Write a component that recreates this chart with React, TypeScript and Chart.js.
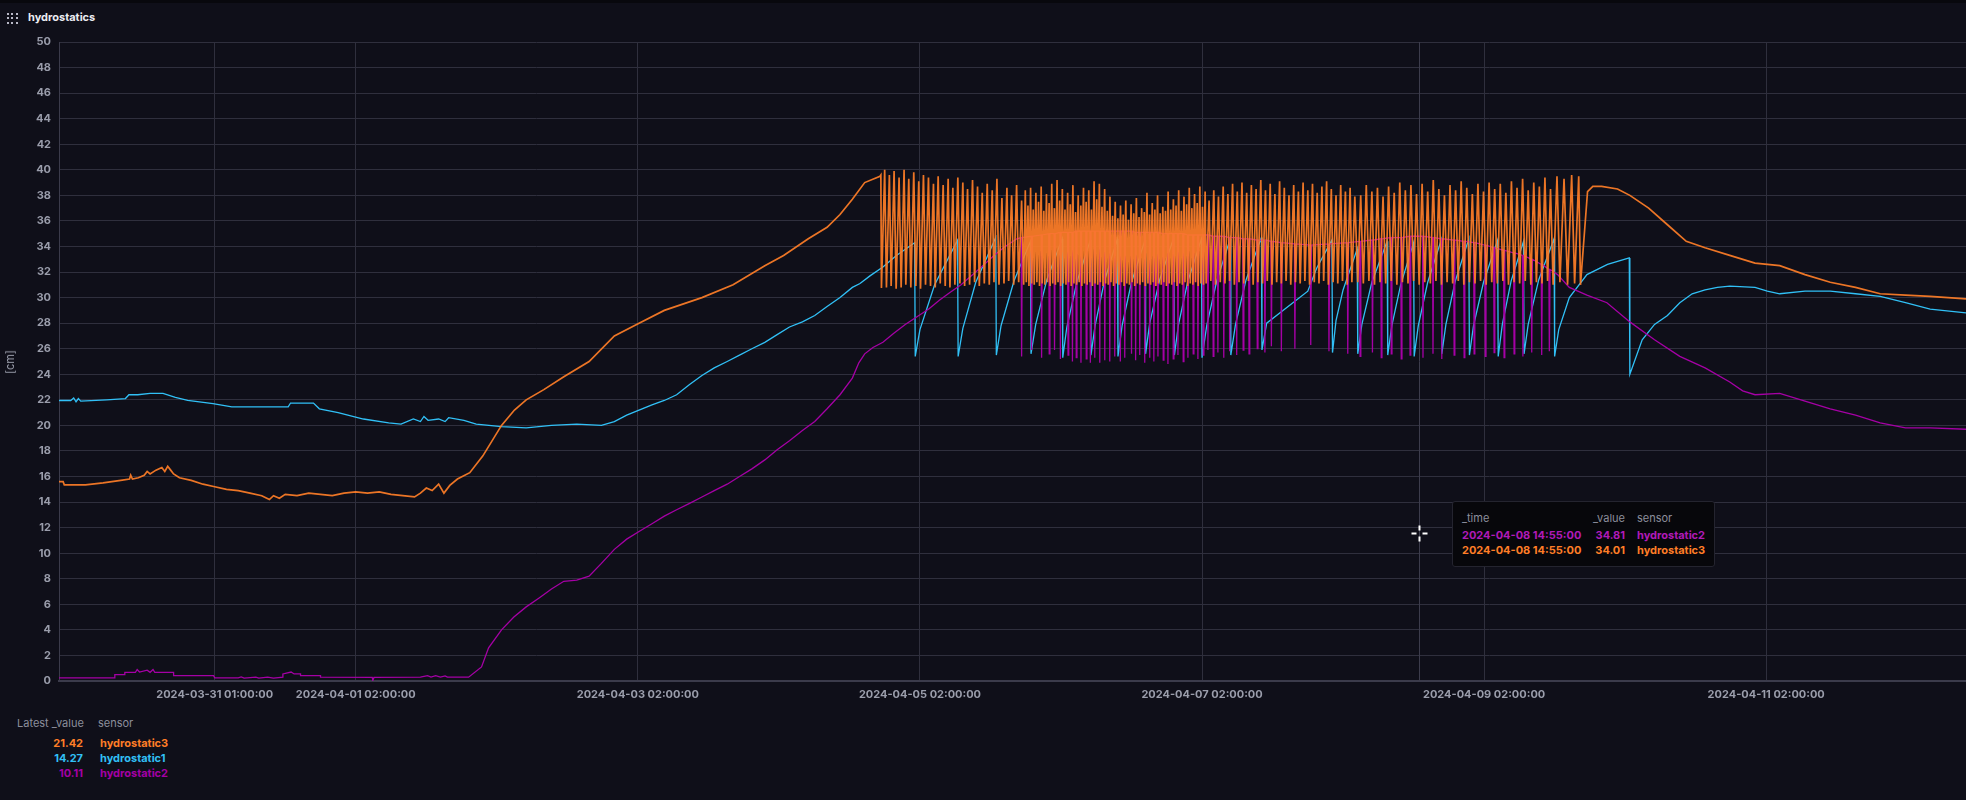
import React, { useEffect, useRef } from "react";
import { Chart, registerables } from "chart.js";
Chart.register(...registerables);

const FONT = "Inter, 'DejaVu Sans', sans-serif";
const BG = "#0f0f19";
const GRID = "#2f2f3d";
const TICK = "#9a9dab";
const COLOR1 = "#31C0F6";
const COLOR2 = "#A500A5";
const COLOR3 = "#FF7E27";

// x values: hours since 2024-04-01 02:00:00 (local)
const xMin = -50.5;
const xMax = 274;
const xTickHours = [-24, 0, 48, 96, 144, 192, 240];
const xTickLabels = [
  "2024-03-31 01:00:00",
  "2024-04-01 02:00:00",
  "2024-04-03 02:00:00",
  "2024-04-05 02:00:00",
  "2024-04-07 02:00:00",
  "2024-04-09 02:00:00",
  "2024-04-11 02:00:00",
];
const hoverHour = 180.92;

// ---------- hydrostatic3 (orange) ----------
const h3Before: [number, number][] = [
  [-50.5, 15.6], [-49.8, 15.6], [-49.6, 15.35], [-46, 15.35], [-43, 15.5], [-40, 15.7],
  [-38.5, 15.8], [-38.3, 16.1], [-38, 15.8], [-37, 15.9], [-36, 16.1], [-35.5, 16.4],
  [-35, 16.2], [-34, 16.5], [-33, 16.7], [-32.5, 16.4], [-32, 16.8], [-31.5, 16.5],
  [-31, 16.2], [-30, 15.9], [-28, 15.7], [-26, 15.4], [-24, 15.2], [-22, 15.0],
  [-20, 14.9], [-18, 14.7], [-16, 14.5], [-14.7, 14.2], [-14, 14.5], [-13, 14.3],
  [-12, 14.6], [-10, 14.5], [-8, 14.7], [-6, 14.6], [-4, 14.5], [-2, 14.7], [0, 14.8],
  [2, 14.7], [4, 14.8], [6, 14.6], [8, 14.5], [10, 14.4], [11, 14.7], [12, 15.1],
  [13, 14.9], [14.1, 15.4], [15, 14.7], [16, 15.3], [17.3, 15.8], [19.4, 16.3],
  [21.6, 17.6], [24.8, 20.0], [27, 21.2], [29, 22.0], [32, 22.8], [35.4, 23.8],
  [39.7, 25.0], [44, 27.0], [48.2, 28.0], [52.5, 29.0], [58.9, 30.0], [64.2, 31.0],
  [69.6, 32.5], [72.8, 33.3], [77, 34.6], [80.2, 35.5], [82.4, 36.5], [84.5, 37.7],
  [86.6, 39.0], [89.2, 39.5], [89.35, 39.6],
];
// [low hour, low value, peak hour, peak value]
const h3TeethEarly: [number, number, number, number][] = [
  [89.45, 30.75, 90.0, 40.0], [90.3, 30.8, 90.8, 39.6], [91.1, 30.9, 91.6, 39.9],
  [91.95, 30.7, 92.45, 39.4], [92.8, 30.8, 93.3, 40.0], [93.6, 31.0, 94.1, 39.3],
  [94.45, 30.8, 94.95, 39.8], [95.3, 30.9, 95.8, 39.1], [96.1, 30.7, 96.6, 39.6],
  [96.95, 31.0, 97.45, 39.4], [97.8, 30.9, 98.3, 38.9], [98.6, 30.8, 99.1, 39.5],
  [99.45, 31.1, 99.95, 38.8], [100.3, 30.9, 100.8, 39.3], [101.1, 30.8, 101.6, 38.6],
  [101.95, 31.0, 102.45, 39.4], [102.8, 31.1, 103.3, 39.0], [103.6, 30.9, 104.1, 38.5],
  [104.45, 31.0, 104.95, 39.2], [105.3, 31.2, 105.8, 38.7], [106.1, 30.9, 106.6, 38.2],
  [106.95, 31.1, 107.45, 38.9], [107.8, 31.0, 108.3, 38.4], [108.6, 31.2, 109.1, 39.3],
  [109.45, 31.0, 109.95, 37.8], [110.3, 31.1, 110.8, 38.6], [111.1, 31.3, 111.6, 38.0],
  [111.95, 31.0, 112.45, 38.8], [112.8, 31.2, 113.3, 37.6],
];
// dense pumping period: [low hour, low value, peak hour, peak value]
const h3TeethDense: [number, number, number, number][] = [
  [113.65, 31.0, 113.93, 38.4], [114.1, 31.2, 114.38, 37.2], [114.55, 30.9, 114.83, 38.6],
  [115.0, 31.1, 115.28, 36.9], [115.45, 31.0, 115.73, 38.2], [115.9, 31.2, 116.18, 37.5],
  [116.35, 30.9, 116.63, 38.7], [116.8, 31.1, 117.08, 36.8], [117.25, 31.0, 117.53, 38.1],
  [117.7, 31.2, 117.98, 37.4], [118.15, 30.9, 118.43, 38.9], [118.6, 31.1, 118.88, 37.0],
  [119.05, 31.0, 119.33, 39.2], [119.5, 31.2, 119.78, 37.6], [119.95, 30.9, 120.23, 38.5],
  [120.4, 31.1, 120.68, 36.9], [120.85, 31.0, 121.13, 38.2], [121.3, 31.2, 121.58, 37.3],
  [121.75, 30.9, 122.03, 38.8], [122.2, 31.1, 122.48, 36.7], [122.65, 31.0, 122.93, 38.0],
  [123.1, 31.2, 123.38, 37.2], [123.55, 30.9, 123.83, 38.6], [124.0, 31.1, 124.28, 37.5],
  [124.45, 31.0, 124.73, 38.4], [124.9, 31.2, 125.18, 36.9], [125.35, 30.9, 125.63, 39.1],
  [125.8, 31.1, 126.08, 37.7], [126.25, 31.0, 126.53, 38.9], [126.7, 31.2, 126.98, 37.1],
  [127.15, 30.9, 127.43, 38.5], [127.6, 31.1, 127.88, 36.8], [128.05, 31.0, 128.33, 37.9],
  [128.5, 31.2, 128.78, 36.4], [128.95, 30.9, 129.23, 37.5], [129.4, 31.1, 129.68, 36.2],
  [129.85, 31.0, 130.13, 37.2], [130.3, 31.2, 130.58, 36.5], [130.75, 30.9, 131.03, 37.6],
  [131.2, 31.1, 131.48, 36.1], [131.65, 31.0, 131.93, 37.3], [132.1, 31.2, 132.38, 36.6],
  [132.55, 30.9, 132.83, 37.8], [133.0, 31.1, 133.28, 36.3], [133.45, 31.0, 133.73, 37.0],
  [133.9, 31.2, 134.18, 36.7], [134.35, 30.9, 134.63, 38.2], [134.8, 31.1, 135.08, 36.5],
  [135.25, 31.0, 135.53, 37.4], [135.7, 31.2, 135.98, 36.9], [136.15, 30.9, 136.43, 38.0],
  [136.6, 31.1, 136.88, 36.6], [137.05, 31.0, 137.33, 37.1], [137.5, 31.2, 137.78, 36.8],
  [137.95, 30.9, 138.23, 38.3], [138.4, 31.1, 138.68, 36.9], [138.85, 31.0, 139.13, 37.7],
  [139.3, 31.2, 139.58, 37.2], [139.75, 30.9, 140.03, 38.4], [140.2, 31.1, 140.48, 36.8],
  [140.65, 31.0, 140.93, 37.9], [141.1, 31.2, 141.38, 37.3], [141.55, 30.9, 141.83, 38.6],
  [142.0, 31.1, 142.28, 37.0], [142.45, 31.0, 142.73, 38.1], [142.9, 31.2, 143.18, 37.4],
  [143.35, 30.9, 143.63, 38.7], [143.8, 31.1, 144.08, 37.1], [144.25, 31.0, 144.53, 38.3],
];
const h3TeethLate: [number, number, number, number][] = [
  [144.7, 31.1, 145.2, 37.6], [145.5, 31.3, 146.0, 38.4], [146.3, 31.0, 146.8, 37.9],
  [147.1, 31.2, 147.6, 38.7], [147.9, 31.1, 148.4, 38.1], [148.7, 31.3, 149.2, 38.9],
  [149.5, 31.0, 150.0, 38.3], [150.3, 31.2, 150.8, 39.0], [151.1, 31.1, 151.6, 38.2],
  [151.9, 31.3, 152.4, 38.8], [152.7, 31.0, 153.2, 38.5], [153.5, 31.2, 154.0, 39.2],
  [154.3, 31.1, 154.8, 38.4], [155.1, 31.3, 155.6, 38.9], [155.9, 31.0, 156.4, 38.1],
  [156.7, 31.2, 157.2, 39.1], [157.5, 31.1, 158.0, 38.6], [158.3, 31.3, 158.8, 38.0],
  [159.1, 31.0, 159.6, 38.8], [159.9, 31.2, 160.4, 38.3], [160.7, 31.1, 161.2, 39.0],
  [161.5, 31.3, 162.0, 38.4], [162.3, 31.0, 162.8, 38.9], [163.1, 31.2, 163.6, 38.2],
  [163.9, 31.1, 164.4, 38.7], [164.7, 31.3, 165.2, 39.1], [165.5, 31.0, 166.0, 38.5],
  [166.3, 31.2, 166.8, 38.0], [167.1, 31.1, 167.6, 38.8], [167.9, 31.3, 168.4, 38.3],
  [168.7, 31.0, 169.2, 38.6], [169.5, 31.2, 170.0, 37.9],
  [170.5, 31.2, 171.0, 38.0], [171.45, 31.1, 171.95, 38.8], [172.4, 31.3, 172.9, 38.3],
  [173.35, 31.0, 173.85, 38.6], [174.3, 31.2, 174.8, 37.9], [175.25, 31.1, 175.75, 38.7],
  [176.2, 31.3, 176.7, 38.2], [177.15, 31.0, 177.65, 39.0], [178.1, 31.2, 178.6, 38.4],
  [179.05, 31.1, 179.55, 38.8], [180.0, 31.3, 180.5, 38.1], [180.95, 31.0, 181.45, 38.9],
  [181.9, 31.2, 182.4, 38.3], [182.85, 31.1, 183.35, 39.2], [183.8, 31.3, 184.3, 38.5],
  [184.75, 31.0, 185.25, 38.0], [185.7, 31.2, 186.2, 38.8], [186.65, 31.1, 187.15, 38.4],
  [187.6, 31.3, 188.1, 39.1], [188.55, 31.0, 189.05, 38.6], [189.5, 31.2, 190.0, 38.1],
  [190.45, 31.1, 190.95, 38.9], [191.4, 31.3, 191.9, 38.3], [192.35, 31.0, 192.85, 39.0],
  [193.3, 31.2, 193.8, 38.5], [194.25, 31.1, 194.75, 38.9], [195.2, 31.3, 195.7, 38.2],
  [196.15, 31.0, 196.65, 39.1], [197.1, 31.2, 197.6, 38.6], [198.05, 31.1, 198.55, 39.3],
  [199.0, 31.3, 199.5, 38.4], [199.95, 31.0, 200.45, 39.0], [200.9, 31.2, 201.4, 38.7],
  [201.85, 31.1, 202.35, 39.4], [202.8, 31.3, 203.3, 38.5], [203.75, 31.0, 204.4, 39.5],
  [204.9, 31.2, 205.6, 39.3], [206.2, 31.0, 206.9, 39.6], [207.4, 31.1, 208.1, 39.5],
];
const h3After: [number, number][] = [
  [208.4, 31.0], [209.6, 38.3], [210.5, 38.7], [212, 38.7], [214.7, 38.5], [216.8, 38.0],
  [220, 37.0], [223.2, 35.7], [226.4, 34.4], [229.6, 33.9], [233.8, 33.3], [238.1, 32.7],
  [242.3, 32.5], [246.6, 31.8], [250.9, 31.2], [255.2, 30.8], [259.4, 30.3], [263.7, 30.2],
  [267.9, 30.1], [274, 29.9],
];

// ---------- hydrostatic2 (purple) ----------
const h2Before: [number, number][] = [
  [-50.5, 0.25], [-41, 0.25], [-41, 0.5], [-39.3, 0.5], [-39.3, 0.68], [-37.5, 0.68],
  [-37.2, 0.9], [-36.8, 0.7], [-35.5, 0.85], [-35, 0.68], [-34.5, 0.9], [-34.2, 0.68],
  [-31, 0.68], [-31, 0.42], [-24.2, 0.42], [-24, 0.25], [-20, 0.25], [-19.5, 0.32],
  [-19, 0.22], [-17, 0.3], [-16.5, 0.22], [-15, 0.3], [-14, 0.22], [-12.4, 0.3],
  [-12.4, 0.55], [-11, 0.7], [-10.5, 0.55], [-9.4, 0.55], [-9.4, 0.42], [-6, 0.42],
  [-6, 0.3], [2.8, 0.28], [2.9, 0.05], [3.1, 0.28], [11, 0.3], [12.2, 0.42], [12.8, 0.3],
  [13.6, 0.42], [14.4, 0.3], [15.2, 0.4], [15.6, 0.3], [19.2, 0.3], [21.4, 1.1],
  [22.6, 2.6], [24.8, 4.0], [26.9, 5.0], [29, 5.8], [31.2, 6.5], [33.3, 7.2], [35.4, 7.8],
  [37.6, 7.9], [39.7, 8.2], [41.8, 9.2], [44, 10.3], [46.1, 11.1], [48.2, 11.7],
  [50.4, 12.3], [52.5, 12.9], [54.6, 13.4], [56.8, 13.9], [58.9, 14.4], [61, 14.9],
  [63.2, 15.4], [65.3, 16.0], [67.4, 16.6], [69.6, 17.3], [71.7, 18.1], [73.8, 18.8],
  [76, 19.6], [78.1, 20.3], [80.2, 21.3], [82.4, 22.4], [84.5, 23.7], [85.6, 24.9],
  [86.6, 25.6], [88, 26.1], [89.7, 26.5], [91.5, 27.2], [93.5, 27.9], [95.5, 28.5],
  [97.5, 29.1], [99.3, 29.8], [101.1, 30.4], [103, 31.0], [105, 31.8], [106.7, 32.5],
  [108.6, 33.3], [110.5, 34.0], [112.5, 34.6],
];
// [spike hour, spike bottom, level around the spike]
const h2Spikes: [number, number, number][] = [
  [113.3, 25.4, 34.7], [115.0, 25.9, 34.8], [116.7, 25.3, 34.9], [118.0, 25.6, 35.0],
  [118.9, 25.9, 35.0], [119.9, 25.2, 35.1], [121.2, 25.5, 35.1], [121.95, 25.0, 35.1],
  [122.6, 25.3, 35.2], [123.4, 24.9, 35.2], [124.3, 25.2, 35.2], [125.0, 24.9, 35.2],
  [125.75, 25.3, 35.2], [126.6, 24.9, 35.2], [127.45, 25.1, 35.2], [128.3, 25.0, 35.2],
  [129.15, 25.4, 35.2], [130.1, 25.0, 35.2], [130.85, 25.3, 35.2], [132.0, 25.6, 35.2],
  [132.7, 25.1, 35.1], [133.4, 25.5, 35.1], [134.25, 24.9, 35.1], [135.1, 25.3, 35.1],
  [135.8, 25.0, 35.1], [136.5, 25.4, 35.1], [137.4, 25.1, 35.0], [138.2, 24.8, 35.0],
  [139.1, 25.2, 35.0], [139.9, 25.5, 35.0], [140.8, 25.0, 35.0], [141.6, 25.3, 34.9],
  [142.5, 25.6, 34.9], [143.3, 25.2, 34.9], [144.2, 25.5, 34.9], [145.0, 25.9, 34.9],
  [145.9, 25.4, 34.8], [146.7, 25.7, 34.8], [147.7, 25.3, 34.8], [148.7, 25.8, 34.7],
  [149.9, 25.5, 34.7], [151.0, 25.9, 34.6], [152.0, 25.6, 34.6], [153.4, 26.0, 34.5],
  [154.7, 25.7, 34.5], [155.8, 26.2, 34.4], [157.5, 25.8, 34.3], [159.8, 26.0, 34.2],
  [162.5, 26.3, 34.1], [165.6, 25.8, 34.2], [168.8, 25.6, 34.3], [170.9, 25.4, 34.4],
  [173.0, 25.7, 34.5], [174.5, 25.3, 34.6], [176.2, 25.6, 34.7], [177.9, 25.2, 34.7],
  [179.4, 25.5, 34.8], [181.6, 25.3, 34.8], [183.3, 25.6, 34.7], [184.8, 25.2, 34.6],
  [186.9, 25.5, 34.5], [188.6, 25.3, 34.4], [190.3, 25.6, 34.3], [192.2, 25.4, 34.1],
  [193.7, 25.7, 33.9], [195.4, 25.3, 33.7], [197.1, 25.6, 33.5], [198.6, 25.4, 33.3],
  [200.1, 25.7, 33.0], [201.8, 25.5, 32.6], [203.1, 25.8, 32.2],
];
const h2After: [number, number][] = [
  [204.5, 31.8], [206.5, 30.8], [209.5, 30.2], [212.9, 29.6], [216.8, 28.1], [221, 26.7],
  [225.3, 25.4], [229.6, 24.5], [233.8, 23.4], [236, 22.7], [238.1, 22.4], [242.3, 22.5],
  [246.6, 21.9], [250.9, 21.3], [255.2, 20.8], [259.4, 20.2], [263.7, 19.8], [267.9, 19.8],
  [274, 19.7],
];

// ---------- hydrostatic1 (cyan) ----------
const h1Before: [number, number][] = [
  [-50.5, 21.95], [-48.5, 21.95], [-48, 22.15], [-47.6, 21.85], [-47.2, 22.1], [-46.8, 21.9],
  [-42.4, 22.0], [-39.2, 22.1], [-38.6, 22.4], [-37.1, 22.4], [-35, 22.5], [-32.8, 22.5],
  [-30.7, 22.2], [-28.6, 21.95], [-24.3, 21.7], [-21.1, 21.45], [-17.9, 21.45],
  [-11.5, 21.45], [-11.1, 21.75], [-7.2, 21.75], [-6.2, 21.3], [-3, 21.0], [1.3, 20.5],
  [5.6, 20.2], [7.7, 20.1], [9.8, 20.5], [11, 20.3], [11.6, 20.7], [12.3, 20.4],
  [14.1, 20.5], [15.2, 20.3], [15.8, 20.6], [18.4, 20.4], [20.5, 20.1], [24.8, 19.9],
  [29, 19.8], [33.3, 20.0], [37.6, 20.1], [41.8, 20.0], [44, 20.3], [46.1, 20.8],
  [48.2, 21.2], [50.4, 21.6], [52.5, 21.95], [54.6, 22.4], [56.8, 23.2], [58.9, 23.9],
  [61, 24.5], [63.2, 25.0], [65.3, 25.5], [67.4, 26.0], [69.6, 26.5], [71.7, 27.1],
  [73.8, 27.7], [76, 28.1], [78.1, 28.6], [80.2, 29.3], [82.4, 30.0], [84.5, 30.8],
  [85.8, 31.1], [87.5, 31.7], [89.7, 32.4], [92, 33.3], [95.1, 34.3],
];
const h1Pumping: [number, number][] = [
  [95.2, 25.4], [96.0, 27.5], [98.5, 31.0], [102.4, 34.5],
  [102.5, 25.4], [103.3, 27.6], [105.5, 31.2], [108.9, 34.7],
  [109.0, 25.5], [109.8, 27.8], [112.0, 31.3], [114.8, 34.4],
  [114.9, 25.6], [115.7, 27.9], [117.6, 31.4], [120.2, 34.6],
  [120.3, 25.3], [121.0, 27.7], [122.7, 31.2], [125.0, 34.5],
  [125.1, 25.5], [125.8, 27.8], [127.4, 31.3], [129.6, 34.6],
  [129.7, 25.4], [130.4, 27.8], [132.0, 31.2], [134.3, 34.5],
  [134.4, 25.6], [135.1, 28.0], [136.8, 31.4], [139.2, 34.7],
  [139.3, 25.5], [140.0, 27.9], [141.6, 31.3], [143.9, 34.6],
  [144.0, 25.3], [144.8, 27.8], [146.5, 31.3], [148.8, 34.6],
  [148.9, 25.5], [149.7, 27.9], [151.5, 31.4], [154.1, 34.7],
  [154.2, 25.9], [155.0, 28.0], [162.0, 30.5], [163.5, 32.3], [166.1, 34.5],
  [166.2, 25.7], [166.8, 28.2], [168.0, 30.6], [170.4, 33.8],
  [170.5, 25.6], [171.2, 27.9], [172.9, 31.2], [175.5, 34.4],
  [175.6, 25.5], [176.3, 27.8], [177.8, 31.0], [180.0, 34.3],
  [180.1, 25.4], [180.8, 27.8], [182.4, 31.2], [184.7, 34.5],
  [184.8, 25.6], [185.5, 27.9], [187.1, 31.3], [189.4, 34.6],
  [189.5, 25.5], [190.2, 27.8], [191.9, 31.2], [194.3, 34.5],
  [194.4, 25.4], [195.1, 27.9], [196.6, 31.3], [198.7, 34.4],
  [198.8, 25.6], [199.5, 27.9], [201.3, 31.4], [203.9, 34.6],
  [204.0, 25.4], [204.7, 27.5], [206.5, 30.0], [209.5, 31.8], [213, 32.6], [216.7, 33.1],
];
const h1After: [number, number][] = [
  [216.8, 24.0], [218.9, 26.7], [221, 27.9], [223.2, 28.6], [225.3, 29.6], [227.4, 30.3],
  [229.6, 30.6], [231.7, 30.8], [233.8, 30.9], [238.1, 30.8], [240.2, 30.5], [242.3, 30.3],
  [246.6, 30.5], [250.9, 30.5], [255.2, 30.3], [259.4, 30.1], [263.7, 29.6], [267.9, 29.1],
  [274, 28.8],
];

// legend / tooltip content
const legendRows = [
  { value: "21.42", sensor: "hydrostatic3", color: COLOR3 },
  { value: "14.27", sensor: "hydrostatic1", color: COLOR1 },
  { value: "10.11", sensor: "hydrostatic2", color: COLOR2 },
];
const tooltipRows = [
  { time: "2024-04-08 14:55:00", value: "34.81", sensor: "hydrostatic2", color: "#b01ab8" },
  { time: "2024-04-08 14:55:00", value: "34.01", sensor: "hydrostatic3", color: COLOR3 },
];

const toXY = (pts: [number, number][]) => pts.map(([x, y]) => ({ x, y }));

function buildOrange() {
  const teeth: [number, number][] = [];
  [...h3TeethEarly, ...h3TeethDense, ...h3TeethLate].forEach(([a, b, c, d]) => {
    teeth.push([a, b]);
    teeth.push([c, d]);
  });
  return toXY([...h3Before, ...teeth, ...h3After]);
}
function buildPurple() {
  const spikes: [number, number][] = [];
  h2Spikes.forEach(([t, bottom, level]) => {
    spikes.push([t - 0.08, level]);
    spikes.push([t, bottom]);
    spikes.push([t + 0.12, level]);
  });
  return toXY([...h2Before, ...spikes, ...h2After]);
}
function buildCyan() {
  return toXY([...h1Before, ...h1Pumping, ...h1After]);
}

const crosshairPlugin = {
  id: "crosshair",
  beforeDatasetsDraw(chart: any) {
    const { ctx, chartArea, scales } = chart;
    const x = Math.round(scales.x.getPixelForValue(hoverHour)) + 0.5;
    ctx.save();
    ctx.strokeStyle = "#3c3c4c";
    ctx.lineWidth = 1;
    ctx.beginPath();
    ctx.moveTo(x, chartArea.top);
    ctx.lineTo(x, chartArea.bottom);
    ctx.stroke();
    ctx.restore();
  },
  afterDraw(chart: any) {
    const { ctx, scales } = chart;
    const x = Math.round(scales.x.getPixelForValue(hoverHour)) + 0.5;
    const y = 533.5;
    ctx.save();
    ctx.strokeStyle = "#ffffff";
    ctx.lineWidth = 2;
    ctx.beginPath();
    ctx.moveTo(x - 8, y); ctx.lineTo(x - 3, y);
    ctx.moveTo(x + 3, y); ctx.lineTo(x + 8, y);
    ctx.moveTo(x, y - 8); ctx.lineTo(x, y - 3);
    ctx.moveTo(x, y + 3); ctx.lineTo(x, y + 8);
    ctx.stroke();
    ctx.restore();
  },
};

function ChartCanvas() {
  const ref = useRef<HTMLCanvasElement>(null);
  useEffect(() => {
    if (!ref.current) return;
    const chart = new Chart(ref.current, {
      type: "line",
      data: {
        datasets: [
          {
            label: "hydrostatic3",
            data: buildOrange(),
            borderColor: "rgba(255,126,39,0.92)",
            borderWidth: 1.7,
            pointRadius: 0,
            tension: 0,
          },
          {
            label: "hydrostatic2",
            data: buildPurple(),
            borderColor: COLOR2,
            borderWidth: 1.3,
            pointRadius: 0,
            tension: 0,
          },
          {
            label: "hydrostatic1",
            data: buildCyan(),
            borderColor: COLOR1,
            borderWidth: 1.3,
            pointRadius: 0,
            tension: 0,
          },
        ],
      },
      options: {
        animation: false,
        responsive: false,
        devicePixelRatio: 1,
        parsing: false,
        normalized: true,
        spanGaps: true,
        layout: { padding: { top: 42, left: 0, right: 0, bottom: 0 } },
        plugins: {
          legend: { display: false },
          tooltip: { enabled: false },
        },
        scales: {
          x: {
            type: "linear",
            min: xMin,
            max: xMax,
            afterBuildTicks: (axis: any) => {
              axis.ticks = xTickHours.map((v) => ({ value: v }));
            },
            afterFit: (s: any) => { s.height = 30; },
            ticks: {
              autoSkip: false,
              maxRotation: 0,
              padding: 7,
              color: TICK,
              font: { family: FONT, size: 11, weight: "bold" },
              callback: (v: any) => {
                const i = xTickHours.indexOf(Number(v));
                return i >= 0 ? xTickLabels[i] : "";
              },
            },
            grid: { color: GRID, lineWidth: 1, drawTicks: false },
            border: { color: "#3b3b4b", width: 2 },
          },
          y: {
            type: "linear",
            min: 0,
            max: 50,
            afterFit: (s: any) => { s.width = 59; },
            ticks: {
              stepSize: 2,
              padding: 8,
              color: TICK,
              font: { family: FONT, size: 11, weight: "bold" },
            },
            grid: { color: GRID, lineWidth: 1, drawTicks: false },
            border: { color: "#3b3b4b", width: 1 },
          },
        },
      },
      plugins: [crosshairPlugin],
    } as any);
    return () => chart.destroy();
  }, []);
  return (
    <canvas
      ref={ref}
      width={1966}
      height={711}
      style={{ position: "absolute", left: 0, top: 0, width: 1966, height: 711 }}
    />
  );
}

export default function App() {
  const dots = [];
  for (let r = 0; r < 3; r++) {
    for (let c = 0; c < 3; c++) {
      dots.push(
        <div
          key={`${r}-${c}`}
          style={{
            position: "absolute",
            left: 7 + c * 4.4,
            top: 13 + r * 4.4,
            width: 2,
            height: 2,
            background: "#b8b8c6",
          }}
        />
      );
    }
  }
  return (
    <div
      style={{
        position: "fixed",
        left: 0,
        top: 0,
        width: 1966,
        height: 800,
        background: BG,
        overflow: "hidden",
        fontFamily: FONT,
      }}
    >
      <div style={{ position: "absolute", left: 0, top: 0, width: 1966, height: 3, background: "#08080d" }} />
      {dots}
      <div
        style={{
          position: "absolute",
          left: 28,
          top: 9,
          fontSize: 11,
          fontWeight: 700,
          color: "#ececf2",
          lineHeight: "16px",
        }}
      >
        hydrostatics
      </div>
      <ChartCanvas />
      <div
        style={{
          position: "absolute",
          left: 10,
          top: 362,
          transform: "translate(-50%, -50%) rotate(-90deg)",
          fontSize: 11,
          color: "#9a9dab",
          whiteSpace: "nowrap",
        }}
      >
        [cm]
      </div>
      {/* legend */}
      <div style={{ position: "absolute", left: 17, top: 715, fontSize: 11, color: "#8c8e9c", lineHeight: "16px" }}>
        Latest _value
      </div>
      <div style={{ position: "absolute", left: 98, top: 715, fontSize: 11, color: "#8c8e9c", lineHeight: "16px" }}>
        sensor
      </div>
      {legendRows.map((r, i) => (
        <React.Fragment key={r.sensor}>
          <div
            style={{
              position: "absolute",
              right: 1966 - 83,
              top: 735 + i * 15,
              fontSize: 11,
              fontWeight: 700,
              color: r.color,
              lineHeight: "16px",
            }}
          >
            {r.value}
          </div>
          <div
            style={{
              position: "absolute",
              left: 100,
              top: 735 + i * 15,
              fontSize: 11,
              fontWeight: 700,
              color: r.color,
              lineHeight: "16px",
            }}
          >
            {r.sensor}
          </div>
        </React.Fragment>
      ))}
      {/* hover tooltip */}
      <div
        style={{
          position: "absolute",
          left: 1452,
          top: 501,
          width: 263,
          height: 66,
          background: "#07070b",
          border: "1px solid #24242f",
          borderRadius: 3,
          boxSizing: "border-box",
        }}
      />
      <div style={{ position: "absolute", left: 1462, top: 510, fontSize: 11, color: "#8c8e9c", lineHeight: "16px" }}>_time</div>
      <div style={{ position: "absolute", right: 1966 - 1625, top: 510, fontSize: 11, color: "#8c8e9c", lineHeight: "16px" }}>_value</div>
      <div style={{ position: "absolute", left: 1637, top: 510, fontSize: 11, color: "#8c8e9c", lineHeight: "16px" }}>sensor</div>
      {tooltipRows.map((r, i) => (
        <React.Fragment key={r.sensor}>
          <div style={{ position: "absolute", left: 1462, top: 527 + i * 15, fontSize: 11, fontWeight: 700, color: r.color, lineHeight: "16px" }}>
            {r.time}
          </div>
          <div style={{ position: "absolute", right: 1966 - 1625, top: 527 + i * 15, fontSize: 11, fontWeight: 700, color: r.color, lineHeight: "16px" }}>
            {r.value}
          </div>
          <div style={{ position: "absolute", left: 1637, top: 527 + i * 15, fontSize: 11, fontWeight: 700, color: r.color, lineHeight: "16px" }}>
            {r.sensor}
          </div>
        </React.Fragment>
      ))}
    </div>
  );
}
